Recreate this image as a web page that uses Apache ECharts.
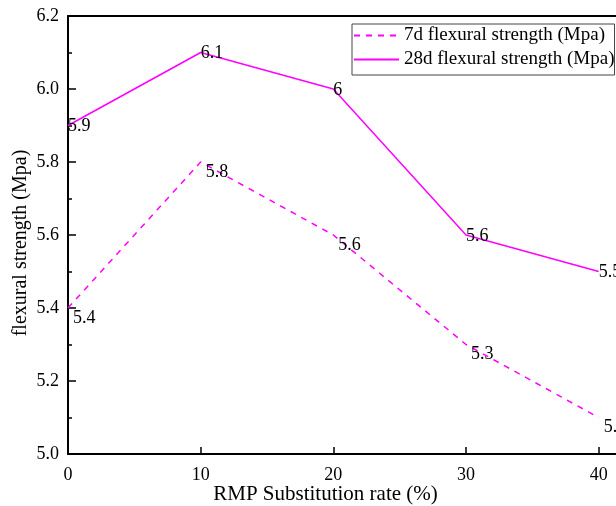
<!DOCTYPE html>
<html>
<head>
<meta charset="utf-8">
<script src="https://cdn.jsdelivr.net/npm/echarts@6/dist/echarts.min.js"></script>
<style>html,body{margin:0;padding:0;background:#fff}#c{width:616px;height:506px}</style>
</head>
<body>
<div id="c"></div>
<script>
var xValues = [0, 10, 20, 30, 40];
var series7d = [5.4, 5.8, 5.6, 5.3, 5.1];
var series28d = [5.9, 6.1, 6.0, 5.6, 5.5];
var labels7d = ['5.4', '5.8', '5.6', '5.3', '5.1'];
var labels28d = ['5.9', '6.1', '6', '5.6', '5.5'];
var seriesNames = ['7d flexural strength (Mpa)', '28d flexural strength (Mpa)'];
var xTitle = 'RMP Substitution rate (%)';
var yTitle = 'flexural strength (Mpa)';

var font = 'Liberation Serif';
var mag = '#FF00FF';
function pts(vals){ return xValues.map(function(x,i){ return [x, vals[i]]; }); }

var chart = echarts.init(document.getElementById('c'), null, {renderer:'canvas'});
chart.setOption({
  animation: false,
  backgroundColor: '#fff',
  grid: {left: 68, top: 16, bottom: 52, width: 597, containLabel: false, outerBoundsMode: 'none'},
  legend: {
    left: 352, top: 24, orient: 'vertical',
    data: seriesNames,
    itemWidth: 45, itemHeight: 14, itemGap: 5,
    padding: [2, 0, 6, 1],
    borderColor: '#444', borderWidth: 1,
    itemStyle: {opacity: 0},
    textStyle: {fontFamily: font, fontSize: 19, color: '#000'}
  },
  xAxis: [{
    type: 'value', min: 0, max: 45, interval: 10,
    name: xTitle, nameLocation: 'middle', nameGap: 30, nameMoveOverlap: false,
    nameTextStyle: {fontFamily: font, fontSize: 21, color: '#000', padding: [0, 82, 0, 0]},
    axisLine: {show: true, onZero: false, lineStyle: {color: '#000', width: 2}},
    axisTick: {show: true, inside: true, length: 7, lineStyle: {color: '#000', width: 1.5}},
    axisLabel: {fontFamily: font, fontSize: 18, color: '#000', margin: 12, showMaxLabel: false},
    splitLine: {show: false}
  }, {
    type: 'value', position: 'top', min: 0, max: 45,
    axisLine: {show: true, onZero: false, lineStyle: {color: '#000', width: 2}},
    axisTick: {show: false}, axisLabel: {show: false}, splitLine: {show: false}
  }],
  yAxis: {
    type: 'value', min: 5.0, max: 6.2, interval: 0.2,
    name: yTitle, nameLocation: 'middle', nameGap: 37, nameMoveOverlap: false,
    nameTextStyle: {fontFamily: font, fontSize: 20, color: '#000', padding: [0, 16, 0, 0]},
    axisLine: {show: true, onZero: false, lineStyle: {color: '#000', width: 2}},
    axisTick: {show: true, inside: true, length: 8, lineStyle: {color: '#000', width: 1.5}},
    minorTick: {show: true, splitNumber: 2, length: 4, lineStyle: {color: '#000', width: 1.5}},
    axisLabel: {fontFamily: font, fontSize: 18, color: '#000', margin: 9,
      formatter: function(v){ return v.toFixed(1); }},
    splitLine: {show: false}
  },
  series: [{
    name: seriesNames[0], type: 'line', data: pts(series7d),
    symbol: 'circle', symbolSize: 0,
    lineStyle: {color: mag, width: 1.5, type: [6, 6]},
    itemStyle: {color: mag},
    label: {show: true, position: 'right', distance: 0, offset: [5, 10],
      fontFamily: font, fontSize: 18, color: '#000',
      formatter: function(p){ return labels7d[p.dataIndex]; }}
  }, {
    name: seriesNames[1], type: 'line', data: pts(series28d),
    symbol: 'circle', symbolSize: 0,
    lineStyle: {color: mag, width: 1.5},
    itemStyle: {color: mag},
    label: {show: true, position: 'right', distance: 0, offset: [0, 1],
      fontFamily: font, fontSize: 18, color: '#000',
      formatter: function(p){ return labels28d[p.dataIndex]; }}
  }]
});
</script>
</body>
</html>
